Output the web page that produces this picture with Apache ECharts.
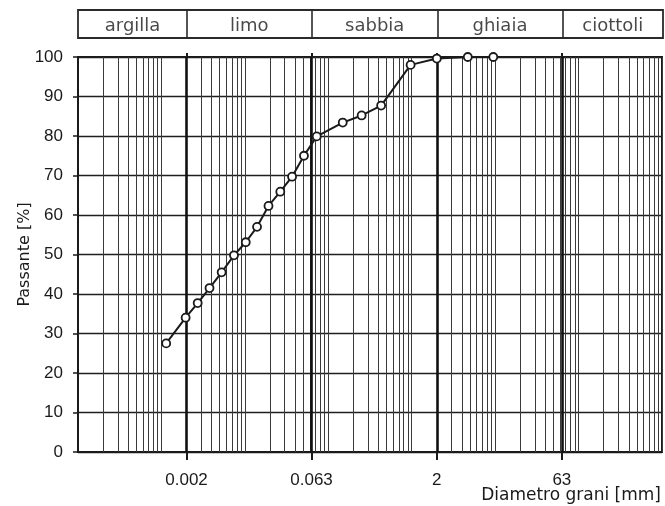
<!DOCTYPE html>
<html><head><meta charset="utf-8">
<script src="https://cdn.jsdelivr.net/npm/echarts@6/dist/echarts.min.js"></script>
<style>html,body{margin:0;padding:0;background:#fff}#c{width:665px;height:506px}</style>
</head><body><div id="c"></div>
<script>
// ---- data ----
const diameters = [0.00114,0.00195,0.00272,0.00377,0.00527,0.00741,0.01025,0.0140,0.0192,0.0266,0.0368,0.0511,0.0727,0.149,0.251,0.430,0.97,2.0,4.7,9.5];
const passing   = [27.5,34.0,37.7,41.5,45.5,49.8,53.1,57.0,62.3,65.9,69.7,75.0,79.9,83.4,85.2,87.7,98.0,99.6,100,100];
const boundaryTicks = [0.002,0.063,2,63];
const tickLabels = ['0.002','0.063','2','63'];
const classNames = ['argilla','limo','sabbia','ghiaia','ciottoli'];
const classCenters = [0.00045,0.0112,0.355,11.2,251];
const decades = [1e-4,1e-3,1e-2,1e-1,1,10,100];
const minorMult = [2,3,4,5,6,7,8,9,10];
const xMin = 1e-4, xMax = 1000;

const FONT = 'DejaVu Sans';
const NUMFONT = 'Liberation Sans';
const vline = (v, y0, y1, style) => {
  const a = {coord: [v, y0]};
  if (style) a.lineStyle = style;
  return [a, {coord: [v, y1]}];
};
const minorLines = [];
decades.forEach(d => minorMult.forEach(m => minorLines.push(vline(d*m, 0, 100))));
const boldLines = boundaryTicks.map(v => vline(v, 0, 100, {width: 2.6, color: '#111'}));
const fmtTick = v => { for (let i = 0; i < boundaryTicks.length; i++) { if (Math.abs(Math.log10(v) - Math.log10(boundaryTicks[i])) < 1e-6) return tickLabels[i]; } return ''; };

const chart = echarts.init(document.getElementById('c'), null, {renderer: 'canvas'});
chart.setOption({
  animation: false,
  backgroundColor: '#fff',
  textStyle: {fontFamily: FONT},
  grid: [
    {left: 78, right: 3, top: 57, bottom: 54, show: true, borderColor: '#1a1a1a', borderWidth: 2, backgroundColor: 'transparent'},
    {left: 78, right: 2, top: 10, height: 28, show: true, borderColor: '#2a2a2a', borderWidth: 1.8, backgroundColor: 'transparent'}
  ],
  xAxis: [
    {type: 'log', logBase: 10, min: xMin, max: xMax, gridIndex: 0,
     axisLine: {show: true, lineStyle: {color: '#1a1a1a', width: 2}},
     axisTick: {show: true, customValues: boundaryTicks, length: 8, inside: false, lineStyle: {color: '#1a1a1a', width: 2}},
     axisLabel: {show: true, customValues: boundaryTicks, margin: 20, fontSize: 17, color: '#1a1a1a', fontFamily: NUMFONT, formatter: fmtTick},
     splitLine: {show: false}, minorTick: {show: false}},
    {type: 'log', logBase: 10, min: xMin, max: xMax, gridIndex: 1, show: false},
    {type: 'log', logBase: 10, min: xMin, max: xMax, gridIndex: 0, position: 'top',
     axisLine: {show: false},
     axisTick: {show: true, customValues: boundaryTicks, length: 4, inside: false, lineStyle: {color: '#1a1a1a', width: 2}},
     axisLabel: {show: false}, splitLine: {show: false}}
  ],
  yAxis: [
    {type: 'value', min: 0, max: 100, interval: 10, gridIndex: 0,
     name: 'Passante [%]', nameLocation: 'middle', nameGap: 45, nameMoveOverlap: false,
     nameTextStyle: {fontSize: 16, color: '#1a1a1a', fontFamily: FONT},
     axisLine: {show: true, lineStyle: {color: '#1a1a1a', width: 2}},
     axisTick: {show: true, length: 5, inside: false, lineStyle: {color: '#1a1a1a', width: 1.5}},
     axisLabel: {fontSize: 17, color: '#1a1a1a', margin: 15, fontFamily: NUMFONT},
     splitLine: {show: true, lineStyle: {color: '#1f1f1f', width: 1.4}}},
    {type: 'value', min: 0, max: 1, gridIndex: 1, show: false}
  ],
  graphic: [
    {type: 'text', x: 661, y: 496, style: {text: 'Diametro grani [mm]', font: '17px "DejaVu Sans"', fill: '#1a1a1a', align: 'right', verticalAlign: 'middle'}}
  ],
  series: [
    {type: 'line', xAxisIndex: 0, yAxisIndex: 0, data: [[xMin, 0]], symbol: 'none', lineStyle: {opacity: 0}, z: 1, silent: true,
     markLine: {silent: true, symbol: ['none','none'], label: {show: false}, animation: false, precision: 10,
       lineStyle: {type: 'solid', color: '#3a3a3a', width: 1},
       data: minorLines.concat(boldLines)}},
    {type: 'line', xAxisIndex: 1, yAxisIndex: 1, data: [[xMin, 0]], symbol: 'none', lineStyle: {opacity: 0}, z: 1, silent: true,
     markLine: {silent: true, symbol: ['none','none'], label: {show: false}, animation: false, precision: 10,
       lineStyle: {type: 'solid', color: '#2a2a2a', width: 1.6},
       data: boundaryTicks.map(v => vline(v, 0, 1))}},
    {type: 'scatter', xAxisIndex: 1, yAxisIndex: 1, symbolSize: 0, silent: true, z: 3,
     data: classCenters.map((c, i) => [c, 0.5, classNames[i]]),
     label: {show: true, position: 'inside', offset: [0, 2], fontSize: 18, color: '#1a1a1a', fontFamily: FONT,
       formatter: p => p.data[2]}},
    {type: 'line', xAxisIndex: 0, yAxisIndex: 0, z: 5,
     data: diameters.map((d, i) => [d, passing[i]]),
     symbol: 'circle', symbolSize: 8, showAllSymbol: true,
     lineStyle: {color: '#1a1a1a', width: 2},
     itemStyle: {color: '#fff', borderColor: '#1a1a1a', borderWidth: 1.8}}
  ]
});
</script></body></html>
